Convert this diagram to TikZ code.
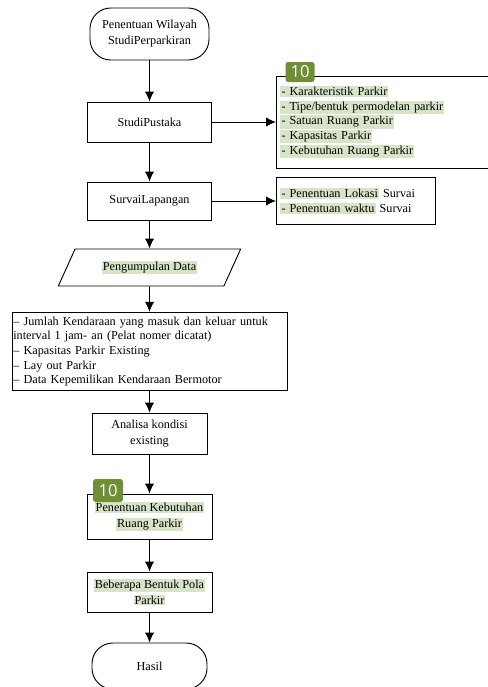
\documentclass[tikz,border=0pt]{standalone}
\usepackage{fontspec}
\setmainfont{Liberation Serif}
\newfontfamily\badgefont{Open Sans}
\usetikzlibrary{arrows.meta,shapes.geometric}
\definecolor{hlgreen}{RGB}{216,228,200}
\definecolor{badgegreen}{RGB}{110,143,52}
\newcommand{\hlg}[1]{{\setlength{\fboxsep}{0.8pt}\colorbox{hlgreen}{#1}}}

\begin{document}
\begin{tikzpicture}[
    every node/.style={align=center, font=\fontsize{9.2}{12}\selectfont},
    process/.style={draw, line width=0.7pt, inner sep=2pt},
    terminal/.style={draw, line width=0.7pt, rounded corners=0.55cm},
    data box/.style={draw, line width=0.7pt, trapezium, trapezium stretches=true, trapezium left angle=62, trapezium right angle=118},
    list box/.style={draw, line width=0.7pt, align=left, inner xsep=3pt, font=\fontsize{9.2}{11}\selectfont},
    badge/.style={fill=badgegreen, rounded corners=2pt, text=white, inner sep=0pt, font=\badgefont\fontsize{12.5}{12.5}\selectfont},
    flow arrow/.style={draw, line width=0.7pt, -{Latex[length=7.5pt,width=7pt]}},
    ]
\useasboundingbox (0,0) rectangle (12.911667,-18.176875);
\clip (0,0) rectangle (12.911667,-18.176875);
\node[terminal, minimum width=3.148542cm, minimum height=1.375833cm] (start) at (3.955521,-0.899583) {Penentuan Wilayah\\StudiPerparkiran};
\node[process, minimum width=3.280833cm, minimum height=1.058333cm] (pustaka) at (3.955521,-3.227917) {StudiPustaka};
\node[process, minimum width=3.280833cm, minimum height=1.005417cm] (survai) at (3.955521,-5.318125) {SurvaiLapangan};
\node[list box, anchor=west, text width=5.873333cm, minimum height=2.434167cm] (teori) at (7.302500,-3.227917) {\hlg{- Karakteristik Parkir}\\\hlg{- Tipe/bentuk permodelan parkir}\\\hlg{- Satuan Ruang Parkir}\\\hlg{- Kapasitas Parkir}\\\hlg{- Kebutuhan Ruang Parkir}};
\node[list box, anchor=west, text width=3.995208cm, minimum height=1.243542cm] (lokasi) at (7.302500,-5.318125) {\hlg{- Penentuan Lokasi} Survai\\\hlg{- Penentuan waktu} Survai};
\node[data box, minimum width=4.868333cm, minimum height=0.978958cm] (data) at (3.955521,-7.077604) {\hlg{Pengumpulan Data}};
\node[list box, inner xsep=1pt, text width=7.205486cm, minimum height=2.037292cm] (datalist) at (3.955521,-9.299896) {-- Jumlah Kendaraan yang masuk dan keluar untuk\\interval 1 jam- an (Pelat nomer dicatat)\\-- Kapasitas Parkir Existing\\-- Lay out Parkir\\-- Data Kepemilikan Kendaraan Bermotor};
\node[process, minimum width=3.042708cm, minimum height=1.084792cm] (analisa) at (3.955521,-11.469688) {Analisa kondisi\\existing};
\node[process, minimum width=3.307292cm, minimum height=1.190625cm] (kebutuhan) at (3.955521,-13.665729) {\hlg{Penentuan Kebutuhan}\\\hlg{Ruang Parkir}};
\node[process, minimum width=3.307292cm, minimum height=1.058333cm] (pola) at (3.955521,-15.663333) {\hlg{Beberapa Bentuk Pola}\\\hlg{Parkir}};
\node[terminal, minimum width=3.042708cm, minimum height=1.217083cm] (hasil) at (3.955521,-17.621250) {Hasil};
\node[badge, minimum width=0.767292cm, minimum height=0.529167cm] (badgeA) at (7.937500,-1.905000) {10};
\node[badge, minimum width=0.793750cm, minimum height=0.608542cm] (badgeB) at (2.857500,-12.977813) {10};
\draw[flow arrow] (start) -- (pustaka);
\draw[flow arrow] (pustaka.east) -- (teori.west);
\draw[flow arrow] (pustaka) -- (survai);
\draw[flow arrow] (survai.east) -- (lokasi.west);
\draw[flow arrow] (survai) -- (data);
\draw[flow arrow] (data) -- (datalist);
\draw[flow arrow] (datalist) -- (analisa);
\draw[flow arrow] (analisa) -- (kebutuhan);
\draw[flow arrow] (kebutuhan) -- (pola);
\draw[flow arrow] (pola) -- (hasil);
\end{tikzpicture}
\end{document}
